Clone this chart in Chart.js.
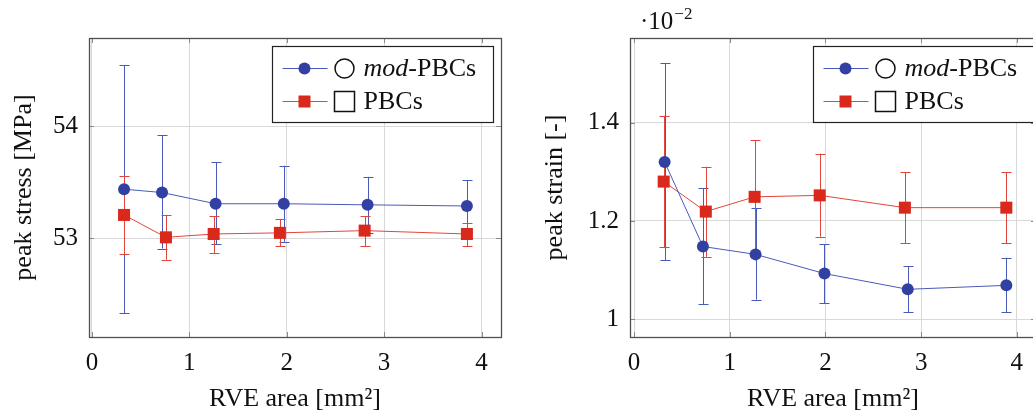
<!DOCTYPE html>
<html>
<head>
<meta charset="utf-8">
<script src="https://cdn.jsdelivr.net/npm/chart.js@4"></script>
<style>
  html, body { margin: 0; padding: 0; background: #fff; overflow: hidden; width: 1033px; height: 418px; }
  canvas { position: absolute; top: 0; }
  #stress { left: 0; }
  #strain { left: 520px; }
</style>
</head>
<body>
<canvas id="stress" width="515" height="418"></canvas>
<canvas id="strain" width="530" height="418"></canvas>
<script>
// x ticks shared by both panels
const x_ticks = [0, 1, 2, 3, 4];

// left panel: peak stress [MPa]
const stress_y_ticks = [53, 54];
const stress_mod_x = [0.33, 0.72, 1.27, 1.97, 2.83, 3.85];
const stress_mod = [53.44, 53.41, 53.31, 53.31, 53.30, 53.29];
const stress_mod_low = [52.33, 52.91, 52.95, 52.97, 53.05, 53.06];
const stress_mod_high = [54.55, 53.92, 53.68, 53.65, 53.55, 53.52];
const stress_pbc_x = [0.33, 0.76, 1.25, 1.93, 2.80, 3.85];
const stress_pbc = [53.21, 53.01, 53.04, 53.05, 53.07, 53.04];
const stress_pbc_low = [52.86, 52.81, 52.87, 52.93, 52.93, 52.93];
const stress_pbc_high = [53.56, 53.21, 53.20, 53.17, 53.20, 53.14];

// right panel: peak strain [-] (x 10^-2)
const strain_y_ticks = [1, 1.2, 1.4];
const strain_mod_x = [0.32, 0.72, 1.27, 1.99, 2.86, 3.89];
const strain_mod = [1.320, 1.148, 1.132, 1.093, 1.061, 1.069];
const strain_mod_low = [1.120, 1.031, 1.040, 1.033, 1.014, 1.014];
const strain_mod_high = [1.521, 1.266, 1.226, 1.153, 1.108, 1.125];
const strain_pbc_x = [0.31, 0.75, 1.26, 1.94, 2.83, 3.89];
const strain_pbc = [1.280, 1.219, 1.249, 1.252, 1.227, 1.227];
const strain_pbc_low = [1.146, 1.127, 1.134, 1.168, 1.155, 1.155];
const strain_pbc_high = [1.414, 1.310, 1.364, 1.337, 1.299, 1.299];

const FONT = "'Liberation Serif', 'Times New Roman', serif";
const blue = "#3340a3";
const blue_line = "#4a5ab8";
const red = "#d8291c";
const red_line = "#e2453b";

const toPoints = (xs, ys) => xs.map((x, i) => ({ x: x, y: ys[i] }));

// error bars, drawn through the chart scales
const errorBarPlugin = {
  id: "errorBars",
  beforeDatasetsDraw(chart) {
    const ctx = chart.ctx;
    const xs = chart.scales.x;
    const ys = chart.scales.y;
    chart.data.datasets.forEach(ds => {
      ctx.save();
      ctx.strokeStyle = ds.borderColor;
      ctx.lineWidth = 1;
      ds.data.forEach((p, j) => {
        const px = Math.round(xs.getPixelForValue(p.x)) + 0.5;
        const lo = ys.getPixelForValue(ds.errLow[j]);
        const hi = ys.getPixelForValue(ds.errHigh[j]);
        ctx.beginPath();
        ctx.moveTo(px, lo);
        ctx.lineTo(px, hi);
        ctx.moveTo(px - 5, Math.round(lo) + 0.5);
        ctx.lineTo(px + 5, Math.round(lo) + 0.5);
        ctx.moveTo(px - 5, Math.round(hi) + 0.5);
        ctx.lineTo(px + 5, Math.round(hi) + 0.5);
        ctx.stroke();
      });
      ctx.restore();
    });
  }
};

// frame, small inner tick marks, legend box and exponent label
const framePlugin = {
  id: "frame",
  afterDraw(chart, args, opts) {
    const ctx = chart.ctx;
    const a = chart.chartArea;
    ctx.save();
    ctx.strokeStyle = "#8a8a8a";
    ctx.lineWidth = 1;
    ctx.beginPath();
    chart.scales.x.ticks.forEach(t => {
      const px = Math.round(chart.scales.x.getPixelForValue(t.value)) + 0.5;
      ctx.moveTo(px, a.bottom); ctx.lineTo(px, a.bottom - 5);
      ctx.moveTo(px, a.top); ctx.lineTo(px, a.top + 5);
    });
    chart.scales.y.ticks.forEach(t => {
      const py = Math.round(chart.scales.y.getPixelForValue(t.value)) + 0.5;
      ctx.moveTo(a.left, py); ctx.lineTo(a.left + 5, py);
      ctx.moveTo(a.right, py); ctx.lineTo(a.right - 5, py);
    });
    ctx.stroke();

    ctx.strokeStyle = "#505050";
    ctx.lineWidth = 1.3;
    ctx.strokeRect(Math.round(a.left) + 0.5, Math.round(a.top) + 0.5,
      Math.round(a.right - a.left), Math.round(a.bottom - a.top));

    // legend
    const L = Math.round(a.left + opts.legendLeft) + 0.5;
    const T = Math.round(a.top + 8) + 0.5;
    ctx.fillStyle = "#fff";
    ctx.fillRect(L, T, 221, 76);
    ctx.strokeStyle = "#222";
    ctx.lineWidth = 1.2;
    ctx.strokeRect(L, T, 221, 76);

    const rows = [
      { y: T + 22, color: blue, line: blue_line, shape: "circle", italic: "mod", rest: "-PBCs" },
      { y: T + 55, color: red, line: red_line, shape: "rect", italic: "", rest: "PBCs" }
    ];
    rows.forEach(r => {
      ctx.strokeStyle = r.line;
      ctx.lineWidth = 1;
      ctx.beginPath();
      ctx.moveTo(L + 10, r.y); ctx.lineTo(L + 55, r.y);
      ctx.stroke();
      ctx.fillStyle = r.color;
      ctx.beginPath();
      if (r.shape === "circle") ctx.arc(L + 32, r.y, 6, 0, Math.PI * 2);
      else ctx.rect(L + 26, r.y - 6, 12, 12);
      ctx.fill();
      ctx.strokeStyle = "#111";
      ctx.lineWidth = 1.5;
      ctx.beginPath();
      if (r.shape === "circle") ctx.arc(L + 72, r.y, 9.5, 0, Math.PI * 2);
      else ctx.rect(L + 62, r.y - 10, 20, 20);
      ctx.stroke();
      ctx.fillStyle = "#111";
      ctx.textBaseline = "middle";
      ctx.textAlign = "left";
      let tx = L + 91;
      if (r.italic) {
        ctx.font = "italic 26px " + FONT;
        ctx.fillText(r.italic, tx, r.y + 1);
        tx += ctx.measureText(r.italic).width;
      }
      ctx.font = "26px " + FONT;
      ctx.fillText(r.rest, tx, r.y + 1);
    });

    if (opts.exponent) {
      ctx.fillStyle = "#111";
      ctx.textBaseline = "alphabetic";
      ctx.textAlign = "left";
      ctx.font = "25px " + FONT;
      ctx.fillText("\u00b710", a.left + 10, 29);
      const w = ctx.measureText("\u00b710").width;
      ctx.font = "17px " + FONT;
      ctx.fillText("\u22122", a.left + 10 + w + 1, 19);
    }
    ctx.restore();
  }
};

function createPanel({ canvas_id, mod_x, mod_y, mod_low, mod_high, pbc_x, pbc_y, pbc_low, pbc_high,
                       y_ticks, y_min, y_max, x_min, y_title, y_width, title_pad, legend_left, exponent }) {
  const ctx = document.getElementById(canvas_id).getContext("2d");
  return new Chart(ctx, {
    type: "line",
    data: {
      datasets: [
        {
          label: "mod-PBCs",
          data: toPoints(mod_x, mod_y),
          errLow: mod_low,
          errHigh: mod_high,
          borderColor: blue_line,
          backgroundColor: blue,
          pointBackgroundColor: blue,
          pointBorderColor: blue,
          borderWidth: 1,
          pointStyle: "circle",
          pointRadius: 6,
          pointBorderWidth: 0
        },
        {
          label: "PBCs",
          data: toPoints(pbc_x, pbc_y),
          errLow: pbc_low,
          errHigh: pbc_high,
          borderColor: red_line,
          backgroundColor: red,
          pointBackgroundColor: red,
          pointBorderColor: red,
          borderWidth: 1,
          pointStyle: "rect",
          pointRadius: 8.5,
          pointBorderWidth: 0
        }
      ]
    },
    options: {
      responsive: false,
      animation: false,
      devicePixelRatio: 1,
      layout: { padding: { top: 38, right: 14, bottom: 0, left: 0 } },
      plugins: {
        legend: { display: false },
        tooltip: { enabled: false },
        frame: { exponent: exponent, legendLeft: legend_left }
      },
      scales: {
        x: {
          type: "linear",
          min: x_min,
          max: 4.2,
          afterFit: s => { s.height = 81; },
          afterBuildTicks: s => { s.ticks = x_ticks.map(v => ({ value: v })); },
          grid: { color: "#d9d9d9", drawTicks: false },
          border: { display: false },
          ticks: {
            padding: 11,
            color: "#111",
            font: { family: FONT, size: 25 },
            maxRotation: 0,
            callback: v => String(v)
          },
          title: {
            display: true,
            text: "RVE area [mm\u00b2]",
            color: "#111",
            font: { family: FONT, size: 26 },
            padding: { top: 3, bottom: 3 }
          }
        },
        y: {
          type: "linear",
          min: y_min,
          max: y_max,
          afterFit: s => { s.width = y_width; },
          afterBuildTicks: s => { s.ticks = y_ticks.map(v => ({ value: v })); },
          grid: { color: "#d9d9d9", drawTicks: false },
          border: { display: false },
          ticks: {
            padding: 11,
            color: "#111",
            font: { family: FONT, size: 25 },
            callback: v => String(v)
          },
          title: {
            display: true,
            text: y_title,
            color: "#111",
            font: { family: FONT, size: 26 },
            padding: { top: title_pad, bottom: title_pad }
          }
        }
      }
    },
    plugins: [errorBarPlugin, framePlugin]
  });
}

createPanel({
  canvas_id: "stress",
  mod_x: stress_mod_x, mod_y: stress_mod, mod_low: stress_mod_low, mod_high: stress_mod_high,
  pbc_x: stress_pbc_x, pbc_y: stress_pbc, pbc_low: stress_pbc_low, pbc_high: stress_pbc_high,
  y_ticks: stress_y_ticks, y_min: 52.12, y_max: 54.79, x_min: -0.03,
  y_title: "peak stress [MPa]", y_width: 89, title_pad: 9, legend_left: 183, exponent: false
});

createPanel({
  canvas_id: "strain",
  mod_x: strain_mod_x, mod_y: strain_mod, mod_low: strain_mod_low, mod_high: strain_mod_high,
  pbc_x: strain_pbc_x, pbc_y: strain_pbc, pbc_low: strain_pbc_low, pbc_high: strain_pbc_high,
  y_ticks: strain_y_ticks, y_min: 0.964, y_max: 1.572, x_min: -0.042,
  y_title: "peak strain [-]", y_width: 110, title_pad: 20, legend_left: 183, exponent: true
});
</script>
</body>
</html>
